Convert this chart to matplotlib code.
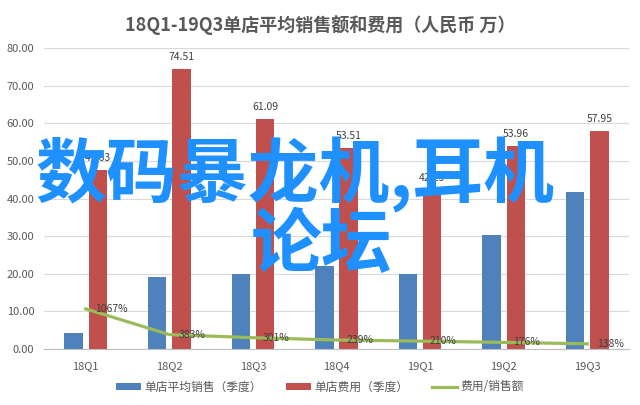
import matplotlib
matplotlib.use("Agg")
import matplotlib.pyplot as plt
import numpy as np

plt.rcParams['font.family'] = ['Noto Sans CJK SC', 'DejaVu Sans']

categories = ['18Q1', '18Q2', '18Q3', '18Q4', '19Q1', '19Q2', '19Q3']
sales = [4.3, 19.2, 20.0, 22.0, 20.0, 30.4, 41.7]
costs = [47.63, 74.51, 61.09, 53.51, 42.25, 53.96, 57.95]
ratio = [10.67, 3.83, 3.01, 2.39, 2.10, 1.76, 1.38]
ratio_labels = ['1067%', '383%', '301%', '239%', '210%', '176%', '138%']
yticks = [0, 10, 20, 30, 40, 50, 60, 70, 80]

title = '18Q1-19Q3单店平均销售额和费用（人民币 万）'
legend_labels = ['单店平均销售（季度）', '单店费用（季度）', '费用/销售额']
watermark1 = '数码暴龙机,耳机'
watermark2 = '论坛'

BLUE = '#4f81bd'
RED = '#c0504d'
GREEN = '#9bbb59'
TXT = '#595959'

fig = plt.figure(figsize=(6.4, 4.05), dpi=100)
ax = fig.add_axes([44/640, 1-349/405, (629-44)/640, (349-48.3)/405])

x = np.arange(len(categories))
w = 0.22
off = 0.145
b1 = ax.bar(x - off, sales, w, color=BLUE, zorder=2, label=legend_labels[0])
b2 = ax.bar(x + off, costs, w, color=RED, zorder=2, label=legend_labels[1])
ln, = ax.plot(x, ratio, color=GREEN, lw=2.3, zorder=3, label=legend_labels[2])

for xi, v in zip(x, costs):
    ax.annotate(f'{v:.2f}', (xi + off, v), xytext=(0, 5), textcoords='offset points',
                ha='center', va='bottom', fontsize=7.5, color='#404040', zorder=4)
for xi, v, s in zip(x, ratio, ratio_labels):
    ax.annotate(s, (xi, v), xytext=(7, 0), textcoords='offset points',
                ha='left', va='center', fontsize=7.5, color='#404040', zorder=4)

ax.set_xlim(-0.5, len(categories) - 0.5)
ax.set_ylim(0, 80)
ax.set_yticks(yticks)
ax.set_yticklabels([f'{t:.2f}' for t in yticks])
ax.set_xticks(x)
ax.set_xticklabels(categories)
ax.tick_params(axis='both', length=0, labelsize=8, labelcolor=TXT)
ax.tick_params(axis='y', pad=7)
ax.tick_params(axis='x', pad=9)
ax.grid(axis='y', color='#d9d9d9', lw=0.8, zorder=0)
for s in ['left', 'right', 'top']:
    ax.spines[s].set_visible(False)
ax.spines['bottom'].set_color('#bfbfbf')

fig.text(0.5, 1-25/405, title, ha='center', va='center', fontsize=13,
         fontweight='bold', color=TXT)

fig.legend(handles=[b1, b2, ln], labels=legend_labels, loc='center',
           bbox_to_anchor=(0.5, 18/405), ncol=3, frameon=False, fontsize=8.5,
           handlelength=2.1, handleheight=0.6, columnspacing=2.0,
           labelcolor=TXT, handletextpad=0.3)

fig.text(295/640, 1-175/405, watermark1, ha='center', va='center', fontsize=51,
         fontweight='bold', color='#1e90ff', zorder=10)
fig.text(322/640, 1-246/405, watermark2, ha='center', va='center', fontsize=51,
         fontweight='bold', color='#1e90ff', zorder=10)

fig.savefig('out.png', dpi=100)
